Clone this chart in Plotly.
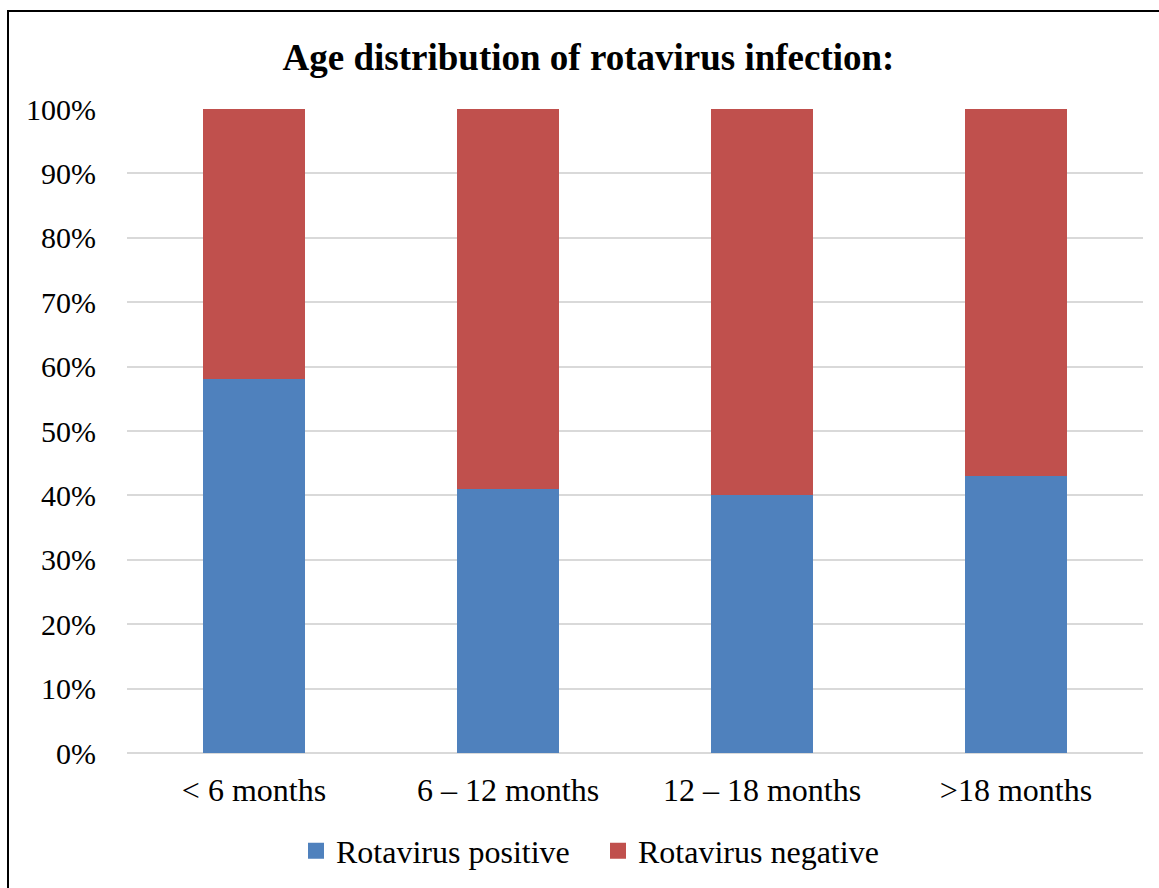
import plotly.graph_objects as go

categories = ["< 6 months", "6 – 12 months", "12 – 18 months", ">18 months"]
positive = [58, 41, 40, 43]
negative = [42, 59, 60, 57]
y_ticks = [0, 10, 20, 30, 40, 50, 60, 70, 80, 90, 100]
series_names = ["Rotavirus positive", "Rotavirus negative"]
series_colors = ["#4F81BD", "#C0504D"]

FONT = "Liberation Serif, Times New Roman, serif"

fig = go.Figure()
for vals, name, col in zip([positive, negative], series_names, series_colors):
    fig.add_trace(go.Bar(x=categories, y=vals, name=name, showlegend=False,
                         marker=dict(color=col, line=dict(width=0))))
# legend entries with larger square symbols
for name, col in zip(series_names, series_colors):
    fig.add_trace(go.Scatter(x=[None], y=[None], mode="markers", name=name,
                             marker=dict(symbol="square", size=16, color=col),
                             showlegend=True))

fig.update_layout(
    barmode="stack",
    bargap=0.6,
    width=1159, height=888,
    margin=dict(l=127, r=16, t=109, b=135, autoexpand=False),
    paper_bgcolor="white", plot_bgcolor="white",
    font=dict(family=FONT, size=30, color="black"),
    title=dict(text="<b>Age distribution of rotavirus infection:</b>",
               x=588.5 / 1159, xanchor="center", xref="container",
               y=1 - 57 / 888, yanchor="middle", yref="container",
               font=dict(family=FONT, size=37, color="black")),
    showlegend=True,
    legend=dict(orientation="h", x=(296 - 127) / 1016, xanchor="left",
                y=-(851 - 753) / 644, yanchor="middle",
                font=dict(family=FONT, size=32), traceorder="normal",
                entrywidth=257, entrywidthmode="pixels"),
    xaxis=dict(showgrid=False, showline=False, ticks="", ticklabelstandoff=15,
               automargin=False, tickfont=dict(family=FONT, size=32)),
    yaxis=dict(range=[0, 100], tickvals=y_ticks,
               ticktext=[f"{v}%" for v in y_ticks],
               showgrid=True, gridcolor="#D9D9D9", gridwidth=1.5,
               zeroline=True, zerolinecolor="#D9D9D9", zerolinewidth=1.5,
               showline=False, ticks="", ticklabelstandoff=30, automargin=False,
               tickfont=dict(family=FONT, size=30)),
    shapes=[dict(type="rect", xref="paper", yref="paper",
                 x0=(8 - 127) / 1016, x1=(1200 - 127) / 1016,
                 y0=(753 - 950) / 644, y1=(753 - 11) / 644,
                 line=dict(color="black", width=2), fillcolor="rgba(0,0,0,0)",
                 layer="below")],
)

fig.write_html("out.html", config={"displayModeBar": False},
               post_script="document.body.style.margin='0';")
